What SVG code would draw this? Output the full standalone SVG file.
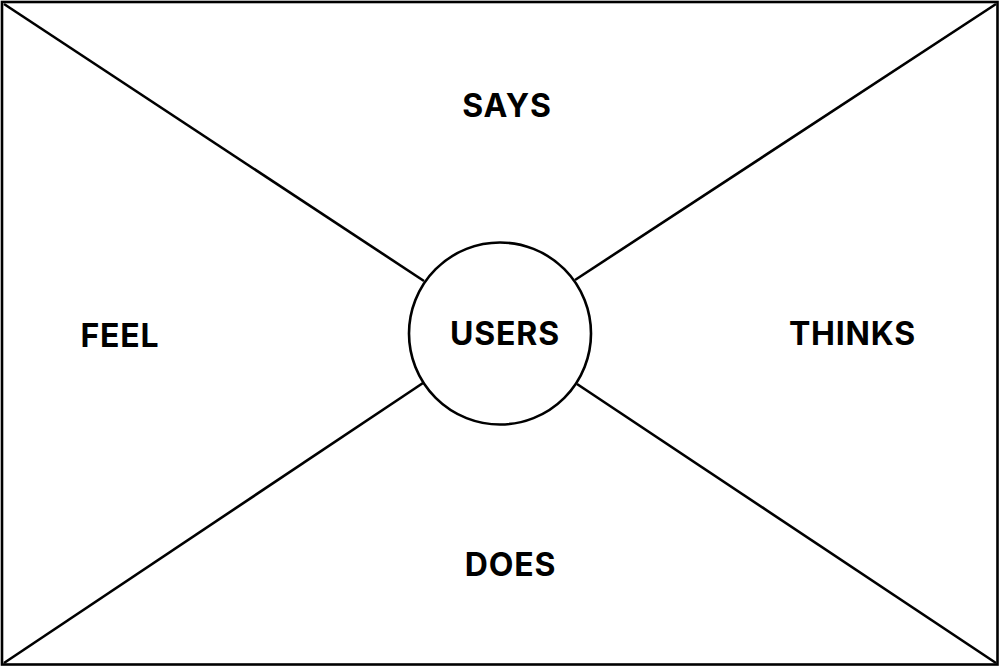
<svg xmlns="http://www.w3.org/2000/svg" width="1000" height="667" viewBox="0 0 1000 667">
<style>
.ln{stroke:#000;stroke-width:2.6;fill:none}
.lbl{font-family:Inter,"Noto Sans",sans-serif;font-weight:700;font-size:32px;letter-spacing:0.8px;fill:#000;text-anchor:middle}
</style>
<rect width="1000" height="667" fill="#fff"/>
<rect x="2" y="2" width="995.5" height="662.5" class="ln" stroke-width="3"/>
<g id="connectors">
<line class="ln" x1="4" y1="4" x2="424" y2="281"/>
<line class="ln" x1="996" y1="4" x2="575" y2="280"/>
<line class="ln" x1="4" y1="663" x2="423" y2="383"/>
<line class="ln" x1="996" y1="663" x2="577" y2="384"/>
</g>
<g id="users">
<circle class="ln" cx="500" cy="333.5" r="91"/>
<text class="lbl" x="505" y="345">USERS</text>
</g>
<g id="says"><text class="lbl" x="507" y="117">SAYS</text></g>
<g id="thinks"><text class="lbl" x="852.5" y="345">THINKS</text></g>
<g id="feel"><text class="lbl" x="120" y="347">FEEL</text></g>
<g id="does"><text class="lbl" x="510.5" y="576">DOES</text></g>
</svg>
